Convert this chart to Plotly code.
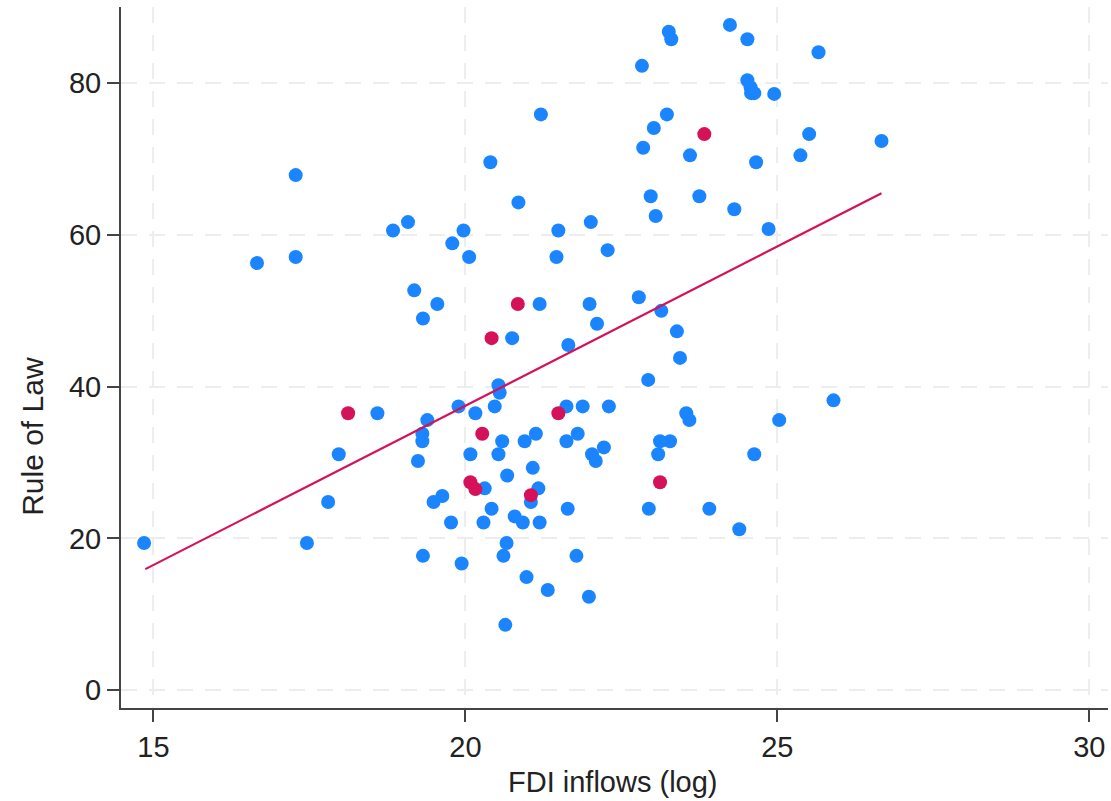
import plotly.graph_objects as go

# Blue group: FDI inflows (log) and Rule of Law
blue_x = [14.85, 16.66, 17.28, 17.28, 17.46, 17.80, 17.97, 18.59, 18.84, 19.08,
          19.18, 19.24, 19.31, 19.31, 19.32, 19.32, 19.39, 19.49, 19.55, 19.63,
          19.77, 19.79, 19.89, 19.94, 19.97, 20.06, 20.08, 20.16, 20.29, 20.31,
          20.40, 20.42, 20.47, 20.53, 20.55, 20.53, 20.59, 20.61, 20.66, 20.64,
          20.67, 20.75, 20.79, 20.85, 20.92, 20.95, 20.98, 21.05, 21.08, 21.13,
          21.17, 21.19, 21.19, 21.21, 21.32, 21.46, 21.49, 21.62, 21.62, 21.64,
          21.65, 21.78, 21.80, 21.88, 21.98, 21.99, 22.01, 22.03, 22.09, 22.11,
          22.22, 22.28, 22.30, 22.78, 22.83, 22.85, 22.93, 22.94, 22.97, 23.02,
          23.05, 23.09, 23.12, 23.14, 23.23, 23.26, 23.30, 23.28, 23.39, 23.44,
          23.54, 23.60, 23.59, 23.75, 23.91, 24.24, 24.31, 24.39, 24.52, 24.52,
          24.57, 24.58, 24.63, 24.63, 24.66, 24.86, 24.95, 25.03, 25.37, 25.51,
          25.66, 25.90, 26.67]
blue_y = [19.4, 56.3, 67.9, 57.1, 19.4, 24.8, 31.1, 36.5, 60.6, 61.7,
          52.7, 30.2, 33.8, 32.8, 49.0, 17.7, 35.6, 24.8, 50.9, 25.6,
          22.1, 58.9, 37.4, 16.7, 60.6, 57.1, 31.1, 36.5, 22.1, 26.6,
          69.6, 23.9, 37.4, 40.2, 39.2, 31.1, 32.8, 17.7, 19.4, 8.6,
          28.3, 46.4, 22.9, 64.3, 22.1, 32.8, 14.9, 24.8, 29.3, 33.8,
          26.6, 22.1, 50.9, 75.9, 13.2, 57.1, 60.6, 37.4, 32.8, 23.9,
          45.5, 17.7, 33.8, 37.4, 12.3, 50.9, 61.7, 31.1, 30.2, 48.3,
          32.0, 58.0, 37.4, 51.8, 82.3, 71.5, 40.9, 23.9, 65.1, 74.1,
          62.5, 31.1, 32.8, 50.0, 75.9, 86.8, 85.8, 32.8, 47.3, 43.8,
          36.5, 70.5, 35.6, 65.1, 23.9, 87.7, 63.4, 21.2, 85.8, 80.4,
          79.5, 78.7, 78.7, 31.1, 69.6, 60.8, 78.6, 35.6, 70.5, 73.3,
          84.1, 38.2, 72.4]

# Red group
red_x = [18.12, 20.08, 20.16, 20.27, 20.42, 20.84, 21.05, 21.49, 23.12, 23.83]
red_y = [36.5, 27.4, 26.5, 33.8, 46.4, 50.9, 25.7, 36.5, 27.4, 73.3]

# Linear fit line (endpoints)
fit_x = [14.87, 26.67]
fit_y = [15.95, 65.5]

x_ticks = [15, 20, 25, 30]
y_ticks = [0, 20, 40, 60, 80]

BLUE = "#1A85FF"
RED = "#D41159"
FONT = "Liberation Sans, Arial, sans-serif"

fig = go.Figure()
fig.add_trace(go.Scatter(x=blue_x, y=blue_y, mode="markers",
                         marker=dict(color=BLUE, size=14, line=dict(width=0)),
                         showlegend=False))
fig.add_trace(go.Scatter(x=red_x, y=red_y, mode="markers",
                         marker=dict(color=RED, size=14, line=dict(width=0)),
                         showlegend=False))
fig.add_trace(go.Scatter(x=fit_x, y=fit_y, mode="lines",
                         line=dict(color=RED, width=2.2), showlegend=False))

axis_common = dict(
    showline=True, linecolor="#444", linewidth=2,
    ticks="outside", ticklen=12, tickwidth=2, tickcolor="#444",
    showgrid=True, gridcolor="#ededed", gridwidth=2, griddash="16px,12px",
    zeroline=False, automargin=False,
    tickfont=dict(family=FONT, size=29, color="#222"),
)

fig.update_xaxes(range=[14.48, 30.30], tickvals=x_ticks, **axis_common)
fig.update_yaxes(range=[-2.36, 90.06], tickvals=y_ticks, **axis_common)

fig.update_layout(
    width=1111, height=801,
    margin=dict(l=121, r=3, t=7, b=93),
    plot_bgcolor="white", paper_bgcolor="white",
    font=dict(family=FONT, color="#222"),
    annotations=[
        dict(text="FDI inflows (log)", xref="paper", yref="paper",
             x=0.4985, y=-0.105, xanchor="center", yanchor="middle",
             showarrow=False, font=dict(family=FONT, size=29, color="#222")),
        dict(text="Rule of Law", xref="paper", yref="paper",
             x=-0.089, y=0.387, xanchor="center", yanchor="middle",
             textangle=-90, showarrow=False,
             font=dict(family=FONT, size=30, color="#222")),
    ],
)

fig.write_html(
    "out.html",
    config={"displayModeBar": False},
    post_script="document.body.style.margin='0';document.body.style.padding='0';",
)
